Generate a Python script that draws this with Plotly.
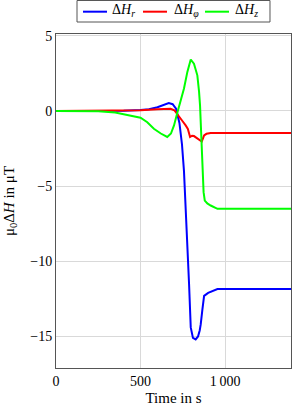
import plotly.graph_objects as go

t_r = [0, 200, 400, 500, 550, 600, 640, 667, 690, 710, 730, 745, 757, 767, 777, 787, 797, 810, 826, 840, 850, 856, 866, 876, 900, 955, 1000, 1100, 1200, 1300, 1390]
h_r = [0, 0, 0.02, 0.06, 0.12, 0.25, 0.4, 0.52, 0.45, 0.15, -0.8, -2.2, -4.0, -6.2, -8.5, -11.5, -14.4, -15.1, -15.2, -15.0, -14.6, -14.2, -13.2, -12.3, -12.1, -11.85, -11.85, -11.85, -11.85, -11.85, -11.85]

t_phi = [0, 300, 500, 600, 650, 678, 700, 727, 750, 767, 780, 793, 805, 816, 840, 862, 870, 876, 890, 915, 1000, 1390]
h_phi = [0, 0, 0.05, 0.12, 0.15, 0.15, 0.05, -0.4, -0.7, -0.96, -1.2, -1.73, -1.65, -1.67, -1.85, -2.03, -1.8, -1.63, -1.52, -1.47, -1.47, -1.47]

t_z = [0, 250, 350, 450, 500, 540, 579, 620, 658, 680, 698, 718, 737, 757, 777, 797, 816, 836, 846, 852, 860, 866, 873, 880, 895, 915, 955, 1000, 1390]
h_z = [0, -0.02, -0.1, -0.3, -0.45, -0.75, -1.18, -1.5, -1.73, -1.5, -0.96, -0.1, 0.71, 1.49, 2.6, 3.42, 3.15, 2.37, 1.3, 0.37, -1.85, -4.05, -5.4, -5.96, -6.15, -6.29, -6.51, -6.51, -6.51]

names = ["Δ<i>H</i><sub><i>r</i></sub>", "Δ<i>H</i><sub><i>φ</i></sub>", "Δ<i>H</i><sub><i>z</i></sub>"]
colors = ["#0000ff", "#ff0000", "#00ff00"]

x_ticks = [0, 500, 1000]
x_ticktext = ["0", "500", "1\u2009000"]
y_ticks = [-15, -10, -5, 0, 5]
y_ticktext = ["\u221215", "\u221210", "\u22125", "0", "5"]

font = "Liberation Serif"

fig = go.Figure()
for t, h, n, c in zip([t_r, t_phi, t_z], [h_r, h_phi, h_z], names, colors):
    fig.add_trace(go.Scatter(x=t, y=h, mode="lines", name=n,
                             line=dict(color=c, width=2), showlegend=False))

# custom legend box (paper coordinates)
leg_line_x = [(0.1149, 0.2170), (0.3702, 0.4723), (0.6340, 0.7362)]
leg_text_x = [0.2298, 0.4936, 0.7532]
leg_y = 1.0668
shapes = [dict(type="rect", xref="paper", yref="paper", x0=0.0894, x1=0.9106,
               y0=1.0359, y1=1.1003, line=dict(color="#555555", width=1),
               fillcolor="white", layer="above")]
annotations = []
for (x0, x1), tx, n, c in zip(leg_line_x, leg_text_x, names, colors):
    shapes.append(dict(type="line", xref="paper", yref="paper", x0=x0, x1=x1,
                       y0=leg_y, y1=leg_y, line=dict(color=c, width=2), layer="above"))
    annotations.append(dict(xref="paper", yref="paper", x=tx, y=leg_y + 0.003,
                            xanchor="left", yanchor="middle", text=n, showarrow=False,
                            font=dict(size=14, family=font, color="black")))

fig.update_layout(
    width=292, height=406,
    margin=dict(l=56, r=1, t=34, b=38, autoexpand=False),
    paper_bgcolor="white", plot_bgcolor="white",
    font=dict(family=font, size=14, color="black"),
    showlegend=False,
    shapes=shapes, annotations=annotations,
    xaxis=dict(range=[0, 1390], tickvals=x_ticks, ticktext=x_ticktext,
               showgrid=True, gridcolor="#d9d9d9", gridwidth=1,
               showline=True, linecolor="#555555", linewidth=1, mirror=True,
               ticks="", zeroline=False, automargin=False,
               tickfont=dict(size=14),
               title=dict(text="Time in s", standoff=4, font=dict(size=15))),
    yaxis=dict(range=[-17.1, 5.12], tickvals=y_ticks, ticktext=y_ticktext,
               showgrid=True, gridcolor="#d9d9d9", gridwidth=1,
               showline=True, linecolor="#555555", linewidth=1, mirror=True,
               ticks="", zeroline=False, automargin=False,
               tickfont=dict(size=14),
               title=dict(text="μ<sub>0</sub>Δ<i>H</i> in μT", standoff=12,
                          font=dict(size=15))),
)

fig.write_html("out.html", config={"displayModeBar": False},
               post_script="document.body.style.margin='0';")
